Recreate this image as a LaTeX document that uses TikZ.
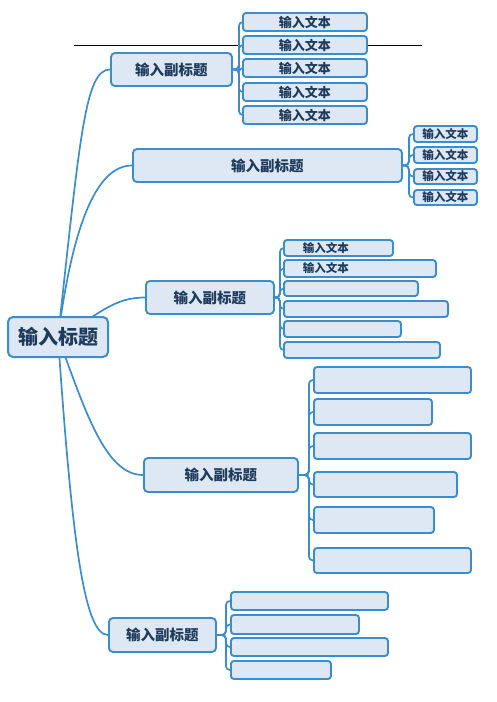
\documentclass[tikz,border=0pt]{standalone}
\usepackage{fontspec}
\newfontfamily\cjk{Noto Sans CJK SC}
\pgfdeclarelayer{bg}
\pgfsetlayers{bg,main}
\definecolor{bord}{HTML}{3A8ED0}
\definecolor{fillc}{HTML}{DDE8F4}
\definecolor{txt}{HTML}{1F3B5C}
\tikzset{
  box/.style={draw=bord, fill=fillc, line width=1.9pt, rounded corners=3pt, inner sep=0pt, anchor=west, text=txt, font=\cjk\bfseries},
  rootbox/.style={box, rounded corners=5pt, line width=2pt},
  subbox/.style={box, rounded corners=4pt, font=\cjk\bfseries\fontsize{14.5}{15}\selectfont},
  leafa/.style={box, minimum width=124pt, minimum height=18pt, font=\cjk\bfseries\fontsize{13}{13}\selectfont},
  leafb/.style={box, minimum width=63pt, font=\cjk\bfseries\fontsize{11.5}{11.5}\selectfont},
  conn/.style={draw=bord, line width=1.7pt},
  bconn/.style={conn, rounded corners=4pt},
}
\begin{document}
\begin{tikzpicture}[x=1pt, y=-1pt]
\useasboundingbox (0,0) rectangle (496,702);
% root
\node[rootbox, minimum width=100pt, minimum height=40pt, font=\cjk\bfseries\fontsize{20}{20}\selectfont] (root) at (7,337) {输入标题};
% subtitles
\node[subbox, minimum width=121pt, minimum height=33pt] (s1) at (110,69.5) {输入副标题};
\node[subbox, minimum width=269pt, minimum height=33pt] (s2) at (132,165.5) {输入副标题};
\node[subbox, minimum width=128pt, minimum height=33pt] (s3) at (145,297.5) {输入副标题};
\node[subbox, minimum width=154pt, minimum height=34pt] (s4) at (143,475) {输入副标题};
\node[subbox, minimum width=107pt, minimum height=34pt] (s5) at (108,635) {输入副标题};
% S1 children
\node[leafa] (a1) at (242,22) {输入文本};
\node[leafa] (a2) at (242,45) {输入文本};
\node[leafa] (a3) at (242,68) {输入文本};
\node[leafa] (a4) at (242,92) {输入文本};
\node[leafa] (a5) at (242,115) {输入文本};
% S2 children
\node[leafb, minimum height=16pt] (b1) at (413,134) {输入文本};
\node[leafb, minimum height=16pt] (b2) at (413,155) {输入文本};
\node[leafb, minimum height=15pt] (b3) at (413,176.5) {输入文本};
\node[leafb, minimum height=15pt] (b4) at (413,197.5) {输入文本};
% S3 children
\node[box, minimum width=109pt, minimum height=16pt, font=\cjk\bfseries\fontsize{11.5}{11.5}\selectfont] (c1) at (283,248) {\makebox[109pt][l]{\hspace{19pt}输入文本}};
\node[box, minimum width=152pt, minimum height=17pt, font=\cjk\bfseries\fontsize{11.5}{11.5}\selectfont] (c2) at (283,268.5) {\makebox[152pt][l]{\hspace{19pt}输入文本}};
\node[box, minimum width=134pt, minimum height=15pt] (c3) at (283,288.5) {};
\node[box, minimum width=164pt, minimum height=16pt] (c4) at (283,309) {};
\node[box, minimum width=117pt, minimum height=16pt] (c5) at (283,329) {};
\node[box, minimum width=156pt, minimum height=16pt] (c6) at (283,350) {};
% S4 children
\node[box, minimum width=157pt, minimum height=26pt] (d1) at (313,380) {};
\node[box, minimum width=118pt, minimum height=26pt] (d2) at (313,412) {};
\node[box, minimum width=157pt, minimum height=26pt] (d3) at (313,446) {};
\node[box, minimum width=143pt, minimum height=25pt] (d4) at (313,484.5) {};
\node[box, minimum width=120pt, minimum height=26pt] (d5) at (313,520) {};
\node[box, minimum width=157pt, minimum height=25pt] (d6) at (313,560.5) {};
% S5 children
\node[box, minimum width=157pt, minimum height=18pt] (e1) at (230,601) {};
\node[box, minimum width=128pt, minimum height=19pt] (e2) at (230,624.5) {};
\node[box, minimum width=157pt, minimum height=18pt] (e3) at (230,647) {};
\node[box, minimum width=100pt, minimum height=18pt] (e4) at (230,670) {};
\begin{pgfonlayer}{bg}
\coordinate (hl) at (74,45);
\coordinate (hr) at (422,45);
\draw[black, line width=0.8pt] (hl) -- (hr);
% root connectors
\draw[conn] (root.center) .. controls (80,137) and (85,69.5) .. (s1.west);
\draw[conn] (root.center) .. controls (72,230) and (95,165.5) .. (s2.west);
\draw[conn] (root.center) .. controls (100,315) and (112,297.5) .. (s3.west);
\draw[conn] (root.center) .. controls (85,410) and (105,475) .. (s4.west);
\draw[conn] (root.center) .. controls (72,540) and (84,635) .. (s5.west);
% branch connectors
\foreach \n in {a1,a2,a3,a4,a5} \draw[bconn] (s1.east) -- ++(6,0) |- (\n.west);
\foreach \n in {b1,b2,b3,b4} \draw[bconn] (s2.east) -- ++(6,0) |- (\n.west);
\foreach \n in {c1,c2,c3,c4,c5,c6} \draw[bconn] (s3.east) -- ++(5,0) |- (\n.west);
\foreach \n in {d1,d2,d3,d4,d5,d6} \draw[bconn] (s4.east) -- ++(10,0) |- (\n.west);
\foreach \n in {e1,e2,e3,e4} \draw[bconn] (s5.east) -- ++(9,0) |- (\n.west);
\end{pgfonlayer}
\end{tikzpicture}
\end{document}
